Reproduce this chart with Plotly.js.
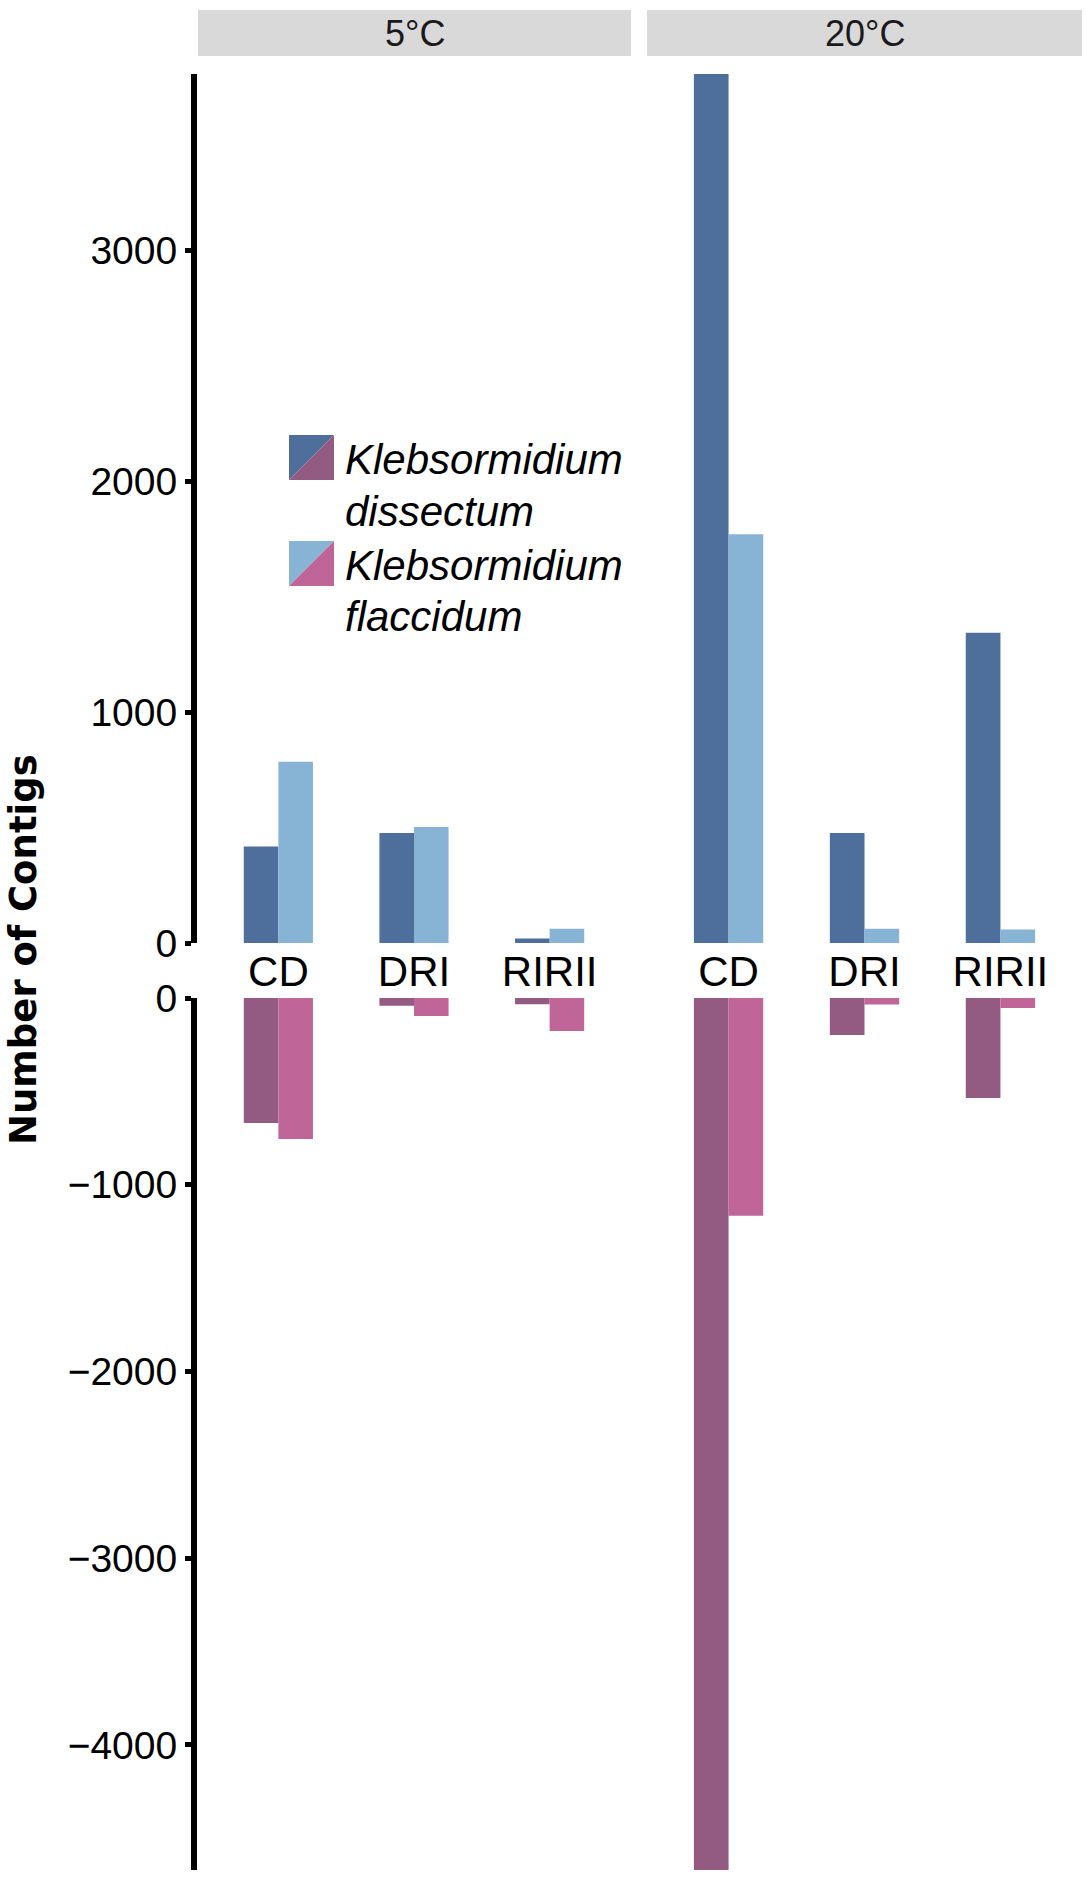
<!DOCTYPE html>
<html>
<head>
<meta charset="utf-8">
<script src="https://cdn.plot.ly/plotly-3.0.1.min.js"></script>
<style>
  html, body { margin: 0; padding: 0; background: #fff; }
  #chart { width: 1086px; height: 1878px; }
</style>
</head>
<body>
<div id="chart"></div>
<script>
// categories and facets
const categories = ['CD', 'DRI', 'RIRII']
const facets = ['5°C', '20°C']
const species = ['Klebsormidium dissectum', 'Klebsormidium flaccidum']

// contig counts (up = positive panel, down = negative panel)
const dissUp5 = [418, 477, 19]
const flacUp5 = [785, 503, 62]
const dissUp20 = [3766, 477, 1345]
const flacUp20 = [1771, 62, 58]

const dissDown5 = [-669, -41, -34]
const flacDown5 = [-755, -96, -177]
const dissDown20 = [-4670, -198, -535]
const flacDown20 = [-1166, -35, -54]

const upTicks = [0, 1000, 2000, 3000]
const downTicks = [-4000, -3000, -2000, -1000, 0]

const colors = {
  dissUp: '#4e6e9c',
  flacUp: '#87b3d4',
  dissDown: '#935b81',
  flacDown: '#c06598'
}

// page geometry (pixels)
const W = 1086, H = 1878
const L = 196, R = 4, T = 74, B = 8
const plotW = W - L - R
const plotH = H - T - B
const px = x => (x - L) / plotW
const py = y => (H - B - y) / plotH

const FONT = 'Liberation Sans, Arial, Helvetica, sans-serif'

function barTrace(name, vals, color, xa, ya) {
  return {
    type: 'bar',
    name: name,
    x: categories,
    y: vals,
    xaxis: xa,
    yaxis: ya,
    marker: { color: color, line: { width: 0 } },
    showlegend: false,
    hoverinfo: 'x+y'
  }
}

let data = [
  barTrace(species[0], dissUp5, colors.dissUp, 'x', 'y'),
  barTrace(species[1], flacUp5, colors.flacUp, 'x', 'y'),
  barTrace(species[0], dissUp20, colors.dissUp, 'x2', 'y'),
  barTrace(species[1], flacUp20, colors.flacUp, 'x2', 'y'),
  barTrace(species[0], dissDown5, colors.dissDown, 'x', 'y2'),
  barTrace(species[1], flacDown5, colors.flacDown, 'x', 'y2'),
  barTrace(species[0], dissDown20, colors.dissDown, 'x2', 'y2'),
  barTrace(species[1], flacDown20, colors.flacDown, 'x2', 'y2')
]

const xCommon = {
  type: 'category',
  range: [-0.6, 2.6],
  showgrid: false,
  zeroline: false,
  showline: false,
  ticks: '',
  anchor: 'y',
  ticklabelstandoff: 0,
  tickfont: { family: FONT, size: 42, color: '#000' },
  fixedrange: true
}

const yCommon = {
  showgrid: false,
  zeroline: false,
  showline: true,
  linecolor: '#000',
  linewidth: 6,
  ticks: 'outside',
  ticklen: 6,
  tickwidth: 5,
  tickcolor: '#000',
  anchor: 'x',
  tickmode: 'array',
  tickfont: { family: FONT, size: 39, color: '#000' },
  fixedrange: true
}

// facet strips
let shapes = []
let annotations = []
const strips = [[198, 631], [647, 1082]]
strips.forEach((s, i) => {
  shapes.push({
    type: 'rect', xref: 'paper', yref: 'paper',
    x0: px(s[0]), x1: px(s[1]), y0: py(56), y1: py(10),
    fillcolor: '#d9d9d9', line: { width: 0 }
  })
  annotations.push({
    xref: 'paper', yref: 'paper',
    x: px((s[0] + s[1]) / 2), y: py(34),
    xanchor: 'center', yanchor: 'middle',
    text: facets[i], showarrow: false,
    font: { family: FONT, size: 36, color: '#1a1a1a' }
  })
})

// legend: split swatches, upper-left = positive colour, lower-right = negative colour
function swatch(x0, y0, size, up, down) {
  let x1 = x0 + size, y1 = y0 + size
  shapes.push({
    type: 'path', xref: 'paper', yref: 'paper',
    path: `M ${px(x0)},${py(y0)} L ${px(x1)},${py(y0)} L ${px(x0)},${py(y1)} Z`,
    fillcolor: up, line: { width: 0 }
  })
  shapes.push({
    type: 'path', xref: 'paper', yref: 'paper',
    path: `M ${px(x1)},${py(y0)} L ${px(x1)},${py(y1)} L ${px(x0)},${py(y1)} Z`,
    fillcolor: down, line: { width: 0 }
  })
}
swatch(289, 435, 45, colors.dissUp, colors.dissDown)
swatch(289, 541, 45, colors.flacUp, colors.flacDown)

const legendLines = [
  ['Klebsormidium', 460],
  ['dissectum', 511],
  ['Klebsormidium', 565],
  ['flaccidum', 616]
]
legendLines.forEach(([txt, y]) => {
  annotations.push({
    xref: 'paper', yref: 'paper',
    x: px(343), y: py(y),
    xanchor: 'left', yanchor: 'middle',
    text: '<i>' + txt + '</i>', showarrow: false,
    font: { family: FONT, size: 42, color: '#000' }
  })
})

// y title
annotations.push({
  xref: 'paper', yref: 'paper',
  x: px(23), y: py(950),
  xanchor: 'center', yanchor: 'middle',
  textangle: -90,
  text: '<b>Number of Contigs</b>', showarrow: false,
  font: { family: 'DejaVu Sans, sans-serif', size: 37, color: '#000' }
})

let layout = {
  width: W,
  height: H,
  margin: { l: L, r: R, t: T, b: B, autoexpand: false },
  paper_bgcolor: '#fff',
  plot_bgcolor: '#fff',
  barmode: 'group',
  bargap: 0.49,
  bargroupgap: 0,
  showlegend: false,
  xaxis: Object.assign({}, xCommon, { domain: [px(197), px(631)] }),
  xaxis2: Object.assign({}, xCommon, { domain: [px(647), px(1082)] }),
  yaxis: Object.assign({}, yCommon, {
    domain: [py(943), py(74)],
    range: [0, 3766],
    tickvals: upTicks
  }),
  yaxis2: Object.assign({}, yCommon, {
    domain: [py(1870), py(998)],
    range: [-4670, 0],
    tickvals: downTicks
  }),
  shapes: shapes,
  annotations: annotations
}

Plotly.newPlot('chart', data, layout, { displayModeBar: false, staticPlot: true })
</script>
</body>
</html>
